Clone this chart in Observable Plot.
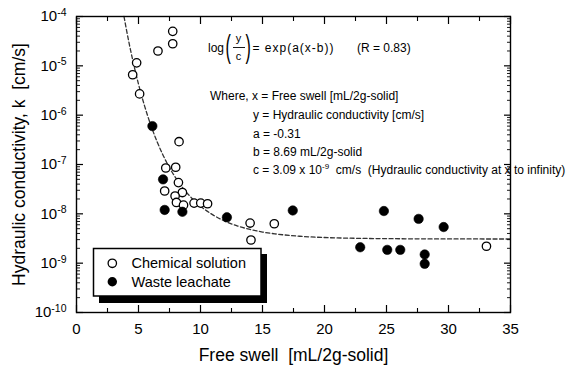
<!DOCTYPE html>
<html><head><meta charset="utf-8">
<script src="https://cdn.jsdelivr.net/npm/d3@7"></script>
<script src="https://cdn.jsdelivr.net/npm/@observablehq/plot@0.6"></script>
<style>html,body{margin:0;padding:0;background:#fff;} svg{display:block}</style>
</head><body><div id="chart"></div>
<script>
// ---- data ----
const chemicalSwell = [7.76, 7.76, 6.57, 4.85, 4.53, 5.09, 8.27, 7.20, 8.00, 8.22, 7.11, 8.54, 7.95, 8.06, 8.63, 9.48, 10.02, 10.57, 14.0, 14.07, 15.95, 33.06];
const chemicalK = [5.0e-5, 2.8e-5, 2.0e-5, 1.15e-5, 6.6e-6, 2.7e-6, 2.9e-7, 8.5e-8, 8.8e-8, 4.3e-8, 2.9e-8, 2.7e-8, 2.3e-8, 1.7e-8, 1.5e-8, 1.65e-8, 1.65e-8, 1.6e-8, 6.5e-9, 2.95e-9, 6.3e-9, 2.2e-9];
const leachateSwell = [6.12, 6.98, 7.11, 8.54, 12.13, 17.44, 22.88, 24.79, 27.59, 29.61, 25.06, 26.11, 28.08, 28.08];
const leachateK = [6.0e-7, 5.0e-8, 1.2e-8, 1.1e-8, 8.5e-9, 1.17e-8, 2.1e-9, 1.14e-8, 7.9e-9, 5.4e-9, 1.86e-9, 1.86e-9, 1.5e-9, 9.7e-10];
// fitted curve log(y/c) = exp(a(x-b)), read at these points
const fitSwell = [3.83, 4, 4.25, 4.5, 4.75, 5, 5.5, 6, 6.5, 7, 7.5, 8, 8.5, 9, 10, 11, 12, 13, 14, 15, 16, 18, 20, 22, 25, 30, 35];
const fitK = [1.0e-4, 5.89e-5, 2.82e-5, 1.43e-5, 7.62e-6, 4.25e-6, 1.51e-6, 6.2e-7, 2.9e-7, 1.51e-7, 8.6e-8, 5.35e-8, 3.55e-8, 2.50e-8, 1.43e-8, 9.52e-9, 7.05e-9, 5.66e-9, 4.82e-9, 4.28e-9, 3.93e-9, 3.51e-9, 3.31e-9, 3.21e-9, 3.14e-9, 3.10e-9, 3.09e-9];
const xMajor = [0, 5, 10, 15, 20, 25, 30, 35];
const xMinor = [2.5, 7.5, 12.5, 17.5, 22.5, 27.5, 32.5];
const yMajor = [1e-10, 1e-9, 1e-8, 1e-7, 1e-6, 1e-5, 1e-4];
const yMinorMantissa = [2, 3, 4, 5, 6, 7, 8, 9];
const seriesNames = ["Chemical solution", "Waste leachate"];
const xTitle = "Free swell\u00a0\u00a0[mL/2g-solid]";
const yTitle = "Hydraulic conductivity, k\u00a0\u00a0[cm/s]";

// ---- build tables ----
const chemical = chemicalSwell.map((x, i) => ({x, k: chemicalK[i]}));
const leachate = leachateSwell.map((x, i) => ({x, k: leachateK[i]}));
const fit = fitSwell.map((x, i) => ({x, k: fitK[i]}));
const yMinor = yMajor.slice(0, -1).flatMap(d => yMinorMantissa.map(m => m * d));

const FONT = "'Liberation Sans', Arial, Helvetica, sans-serif";
const blank = () => "";

const plot = Plot.plot({
  width: 574, height: 367,
  marginLeft: 76, marginRight: 64, marginTop: 16, marginBottom: 55,
  style: {fontFamily: FONT, fontSize: "15px", background: "#fff", color: "#000", overflow: "visible"},
  x: {domain: [0, 35]},
  y: {type: "log", domain: [1e-10, 1e-4]},
  marks: [
    Plot.line(fit, {x: "x", y: "k", stroke: "#333", strokeWidth: 1.3, strokeDasharray: "4,2.5", curve: "monotone-x"}),
    Plot.dot(chemical, {x: "x", y: "k", r: 4.2, fill: "white", stroke: "black", strokeWidth: 1.3}),
    Plot.dot(leachate, {x: "x", y: "k", r: 4.7, fill: "black", stroke: "black", strokeWidth: 0.6}),
    Plot.axisX({anchor: "bottom", ticks: xMajor, tickSize: -7, tickFormat: blank, label: null, strokeWidth: 1.2}),
    Plot.axisX({anchor: "bottom", ticks: xMinor, tickSize: -4, tickFormat: blank, label: null, strokeWidth: 1.1}),
    Plot.axisX({anchor: "top", ticks: xMajor, tickSize: -7, tickFormat: blank, label: null, strokeWidth: 1.2}),
    Plot.axisX({anchor: "top", ticks: xMinor, tickSize: -4, tickFormat: blank, label: null, strokeWidth: 1.1}),
    Plot.axisX({anchor: "bottom", ticks: xMajor, tickSize: 0, tickPadding: 11, label: null, fontSize: 15}),
    Plot.axisY({anchor: "left", ticks: yMajor, tickSize: -7, tickFormat: blank, label: null, strokeWidth: 1.2}),
    Plot.axisY({anchor: "left", ticks: yMinor, tickSize: -4, tickFormat: blank, label: null, strokeWidth: 0.9}),
    Plot.axisY({anchor: "right", ticks: yMajor, tickSize: -7, tickFormat: blank, label: null, strokeWidth: 1.2}),
    Plot.axisY({anchor: "right", ticks: yMinor, tickSize: -4, tickFormat: blank, label: null, strokeWidth: 0.9}),
    Plot.axisY({anchor: "left", ticks: yMajor, tickSize: 0, tickPadding: 10, label: null, fontSize: 15,
      tickFormat: d => `10|${Math.round(Math.log10(d))}`}),
    Plot.frame({stroke: "black", strokeWidth: 1.4}),
    Plot.text([xTitle], {text: d => d, frameAnchor: "bottom", dy: 43, fontSize: 17.5, lineAnchor: "middle", textAnchor: "middle"}),
    Plot.text([yTitle], {text: d => d, frameAnchor: "left", dx: -57, rotate: -90, fontSize: 17.5, lineAnchor: "middle", textAnchor: "middle"})
  ]
});

document.getElementById("chart").appendChild(plot);
const svg = d3.select(plot);

// superscript exponents on y tick labels
svg.selectAll("text").each(function () {
  const s = this.textContent;
  if (s.includes("|")) {
    const [base, exp] = s.split("|");
    const el = d3.select(this);
    el.text(null);
    el.append("tspan").text(base);
    el.append("tspan").attr("dy", "-0.5em").attr("font-size", "10.5px").text(exp);
  }
});

// ---- equation annotation ----
const g = svg.append("g").attr("font-family", FONT).attr("fill", "black").attr("text-anchor", "start").style("white-space", "pre");
const txt = (x, y, s, size = 12) => g.append("text").attr("x", x).attr("y", y).attr("font-size", size).text(s);
txt(208, 52, "log");
g.append("text").attr("transform", "translate(225.5,56.5) scale(0.5,1)").attr("font-size", 32).text("(");
txt(238.5, 42, "y", 11).attr("text-anchor", "middle");
g.append("line").attr("x1", 233).attr("x2", 245).attr("y1", 47.5).attr("y2", 47.5).attr("stroke", "black").attr("stroke-width", 0.9);
txt(238.5, 60, "c", 11).attr("text-anchor", "middle");
g.append("text").attr("transform", "translate(245.5,56.5) scale(0.5,1)").attr("font-size", 32).text(")");
txt(252.5, 52, "= exp(a(x-b))").attr("letter-spacing", 1);
txt(357, 52, "(R = 0.83)");
txt(210, 99.5, "Where, x = Free swell [mL/2g-solid]");
txt(253, 118.5, "y = Hydraulic conductivity [cm/s]");
txt(253, 138, "a = -0.31");
txt(253, 156, "b = 8.69 mL/2g-solid");
const cl = txt(253, 173.5, "c = 3.09 x 10");
cl.append("tspan").attr("dy", -5).attr("font-size", 8).text("-9");
cl.append("tspan").attr("dy", 5).text("  cm/s  (Hydraulic conductivity at x to infinity)");

// ---- legend ----
const lg = svg.append("g").attr("font-family", FONT).attr("text-anchor", "start");
lg.append("rect").attr("x", 99).attr("y", 254).attr("width", 168).attr("height", 49).attr("fill", "black");
lg.append("rect").attr("x", 93.5).attr("y", 248.5).attr("width", 167.5).attr("height", 47.5).attr("fill", "white").attr("stroke", "black").attr("stroke-width", 1.5);
lg.append("circle").attr("cx", 112.3).attr("cy", 263.3).attr("r", 4.2).attr("fill", "white").attr("stroke", "black").attr("stroke-width", 1.3);
lg.append("circle").attr("cx", 112.3).attr("cy", 281.7).attr("r", 4.7).attr("fill", "black");
lg.append("text").attr("x", 131.5).attr("y", 268.3).attr("font-size", 14.5).text(seriesNames[0]);
lg.append("text").attr("x", 131.5).attr("y", 286.7).attr("font-size", 14.5).text(seriesNames[1]);
</script>
</body></html>
